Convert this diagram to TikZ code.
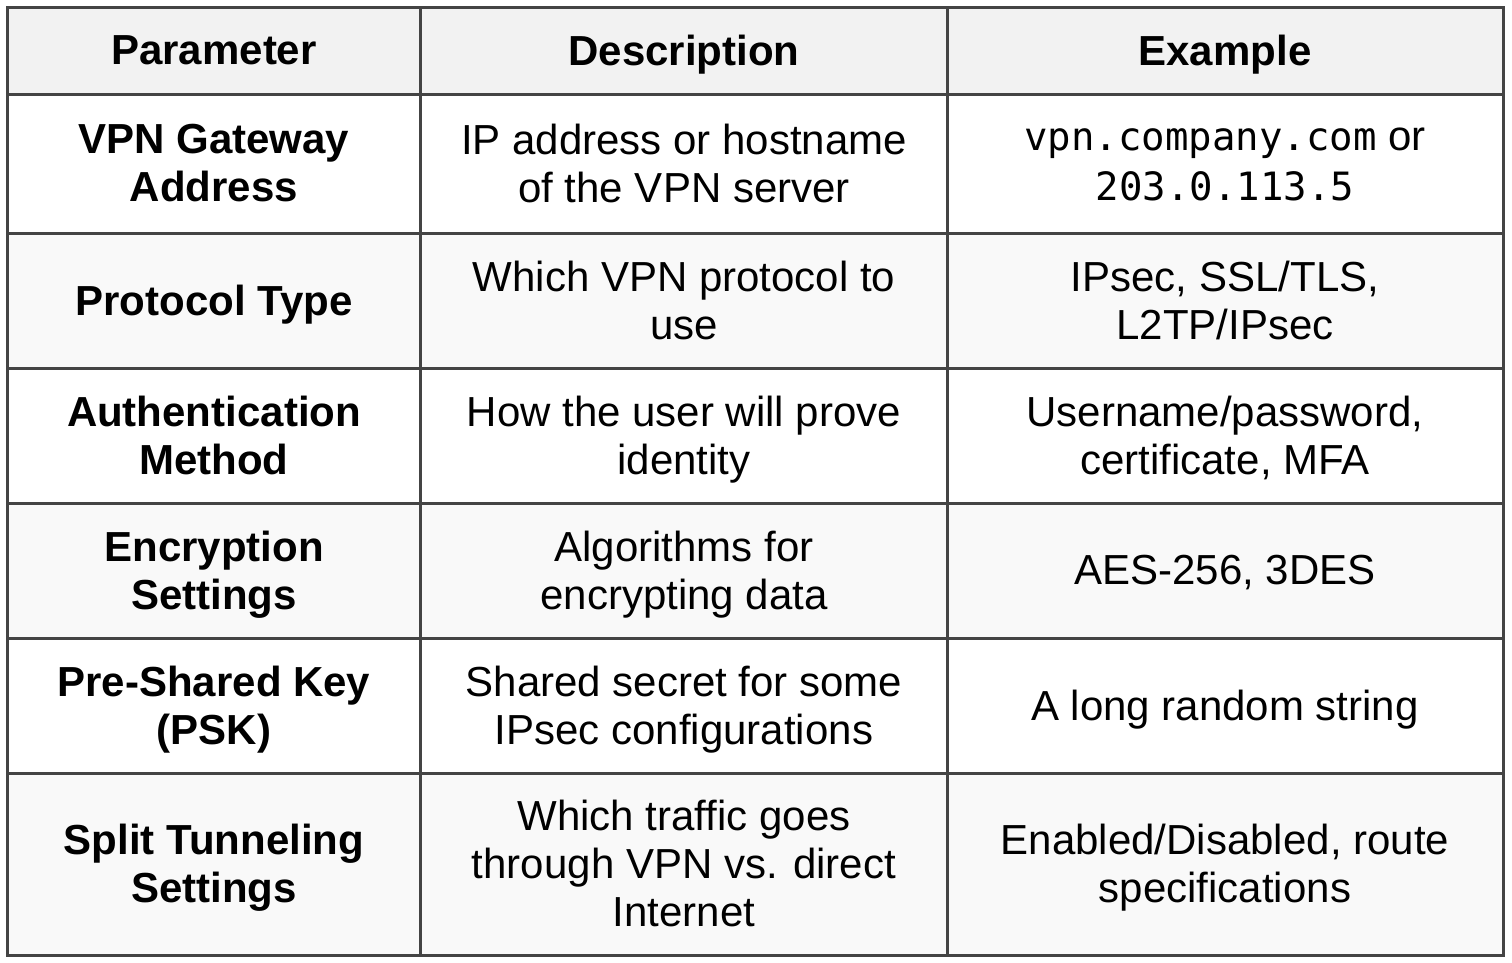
\documentclass[tikz,border=0pt]{standalone}
\usepackage{fontspec}
\setmainfont{Liberation Sans}
\newfontfamily\monof{DejaVu Sans Mono}
\definecolor{gridc}{HTML}{444444}
\definecolor{hdrfill}{HTML}{F2F2F2}
\definecolor{altfill}{HTML}{F9F9F9}
\newcommand{\st}{\rule[-5pt]{0pt}{18pt}}
\begin{document}
\begin{tikzpicture}[x=0.5pt,y=-0.5pt,
  cell/.style={align=center,inner sep=0pt,yshift=-2pt,font=\fontsize{21pt}{24.1pt}\selectfont},
  hcell/.style={cell,font=\fontsize{21pt}{24.1pt}\selectfont\bfseries},
  gridline/.style={draw=gridc,line width=1.5pt}]
\useasboundingbox (0,0) rectangle (1512,963);
% fills
\fill[hdrfill] (7.5,7.5) rectangle (1503,94.5);
\fill[altfill] (7.5,233.5) rectangle (1503,368.5);
\fill[altfill] (7.5,503.5) rectangle (1503,638.5);
\fill[altfill] (7.5,773.5) rectangle (1503,955.5);
% grid
\draw[gridline] (7.5,7.5) rectangle (1503,955.5);
\foreach \y in {94.5,233.5,368.5,503.5,638.5,773.5}
  \draw[gridline] (7.5,\y) -- (1503,\y);
\foreach \x in {420.5,947.5}
  \draw[gridline] (\x,7.5) -- (\x,955.5);
% header
\node[hcell] (h1) at (214,51) {\st Parameter};
\node[hcell] (h2) at (684,51) {\st Description};
\node[hcell] (h3) at (1225,51) {\st Example};
% row 1
\node[hcell] (p1) at (214,164) {\st VPN Gateway\\\st Address};
\node[cell] (d1) at (684,164) {\st IP address or hostname\\\st of the VPN server};
\node[cell,font=\fontsize{21pt}{25pt}\selectfont] (e1) at (1225,164) {\st{\monof\fontsize{19.5pt}{25pt}\selectfont vpn.company.com} or\\\st{\monof\fontsize{19.5pt}{25pt}\selectfont 203.0.113.5}};
% row 2
\node[hcell] (p2) at (214,301) {\st Protocol Type};
\node[cell] (d2) at (684,301) {\st Which VPN protocol to\\\st use};
\node[cell] (e2) at (1225,301) {\st IPsec, SSL/TLS,\\\st L2TP/IPsec};
% row 3
\node[hcell] (p3) at (214,436) {\st Authentication\\\st Method};
\node[cell] (d3) at (684,436) {\st How the user will prove\\\st identity};
\node[cell] (e3) at (1225,436) {\st Username/password,\\\st certificate, MFA};
% row 4
\node[hcell] (p4) at (214,571) {\st Encryption\\\st Settings};
\node[cell] (d4) at (684,571) {\st Algorithms for\\\st encrypting data};
\node[cell] (e4) at (1225,571) {\st AES-256, 3DES};
% row 5
\node[hcell] (p5) at (214,706) {\st Pre-Shared Key\\\st (PSK)};
\node[cell] (d5) at (684,706) {\st Shared secret for some\\\st IPsec configurations};
\node[cell] (e5) at (1225,706) {\st A long random string};
% row 6
\node[hcell] (p6) at (214,864.5) {\st Split Tunneling\\\st Settings};
\node[cell] (d6) at (684,864.5) {\st Which traffic goes\\\st through VPN vs. direct\\\st Internet};
\node[cell] (e6) at (1225,864.5) {\st Enabled/Disabled, route\\\st specifications};
\end{tikzpicture}
\end{document}
